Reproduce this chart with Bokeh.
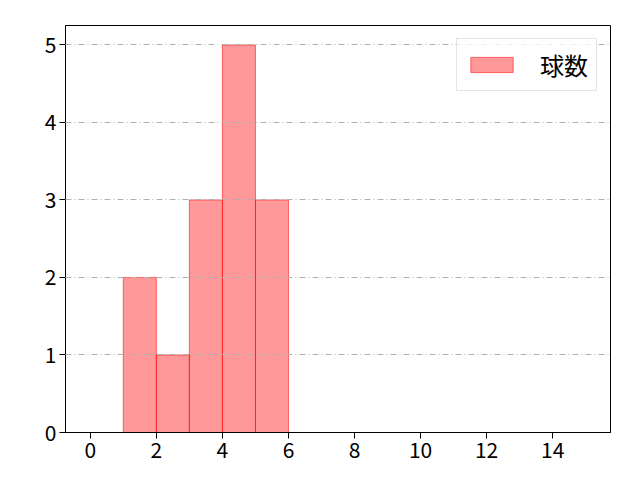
from bokeh.plotting import figure
from bokeh.models import Range1d, FixedTicker, Legend, LegendItem
from bokeh.embed import file_html
from bokeh.resources import INLINE

bin_left = [1, 2, 3, 4, 5]
bin_right = [2, 3, 4, 5, 6]
counts = [2, 1, 3, 5, 3]
x_ticks = [0, 2, 4, 6, 8, 10, 12, 14]
y_ticks = [0, 1, 2, 3, 4, 5]
label = "球数"

FONT = "Noto Sans CJK JP"

p = figure(width=640, height=480, output_backend="svg", toolbar_location=None,
           x_range=Range1d(-0.75, 15.75), y_range=Range1d(0, 5.25),
           min_border_left=65, min_border_right=30, min_border_top=25, min_border_bottom=48)

r = p.quad(left=bin_left, right=bin_right, bottom=0, top=counts,
           fill_color="#ff0000", fill_alpha=0.4, line_color="#ff0000", line_alpha=0.55, line_width=1)

p.xgrid.visible = False
p.ygrid.grid_line_color = "#b0b0b0"
p.ygrid.grid_line_dash = "6 3 1 3"
p.ygrid.grid_line_width = 1
p.ygrid.level = "overlay"

p.xaxis.ticker = FixedTicker(ticks=x_ticks)
p.yaxis.ticker = FixedTicker(ticks=y_ticks)
for ax in (p.xaxis[0], p.yaxis[0]):
    ax.major_label_text_font = FONT
    ax.major_label_text_font_size = "21px"
    ax.major_label_text_color = "black"
    ax.axis_line_color = "black"
    ax.major_tick_line_color = "black"
    ax.major_tick_out = 6
    ax.major_tick_in = 0
    ax.minor_tick_line_color = None
    ax.major_label_standoff = 3

p.outline_line_color = "black"
p.outline_line_alpha = 1.0
p.background_fill_color = "white"
p.border_fill_color = "white"

legend = Legend(items=[LegendItem(label=label, renderers=[r])], location="top_right")
legend.label_text_font = FONT
legend.label_text_font_size = "24px"
legend.label_text_color = "black"
legend.label_text_line_height = 0.8
legend.label_height = 19
legend.glyph_width = 53
legend.glyph_height = 19
legend.label_standoff = 22
legend.padding = 8
legend.margin = 13
legend.border_line_color = "#cccccc"
legend.border_line_width = 1
legend.background_fill_alpha = 0.8
p.add_layout(legend)

open("out.html", "w").write(file_html(p, INLINE))
